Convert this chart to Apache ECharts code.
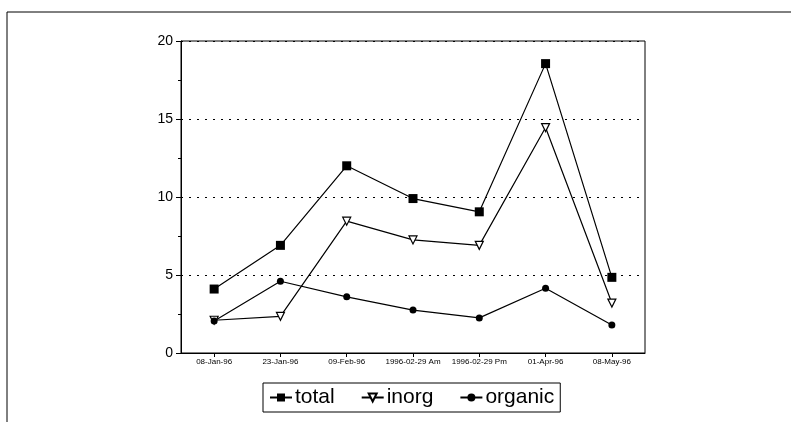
<!DOCTYPE html>
<html>
<head>
<meta charset="utf-8">
<script src="https://cdn.jsdelivr.net/npm/echarts@6/dist/echarts.min.js"></script>
<style>
  html, body { margin: 0; padding: 0; background: #fff; }
  #chart { width: 791px; height: 422px; }
</style>
</head>
<body>
<div id="chart"></div>
<script>
// Sampling dates
const categories = ['08-Jan-96', '23-Jan-96', '09-Feb-96', '1996-02-29 Am', '1996-02-29 Pm', '01-Apr-96', '08-May-96'];

// Measured concentrations per sample
const totalValues   = [4.1, 6.9, 12.0, 9.9, 9.05, 18.55, 4.85];
const inorgValues   = [2.1, 2.35, 8.45, 7.25, 6.9, 14.45, 3.2];
const organicValues = [2.05, 4.6, 3.6, 2.75, 2.25, 4.15, 1.8];

// Value axis ticks
const yTicks = [0, 5, 10, 15, 20];

const font = 'Liberation Sans, Arial, Helvetica, sans-serif';

const chart = echarts.init(document.getElementById('chart'), null, { renderer: 'canvas' });

function lineSeries(name, data, symbol, filled, size, rotate) {
  return {
    name: name,
    type: 'line',
    data: data,
    symbol: symbol,
    symbolSize: size,
    symbolRotate: rotate || 0,
    showAllSymbol: true,
    lineStyle: { color: '#000', width: 1.2 },
    itemStyle: {
      color: filled ? '#000' : '#fff',
      borderColor: '#000',
      borderWidth: filled ? 0 : 1.2
    },
    emphasis: { disabled: true },
    animation: false,
    z: 3
  };
}

chart.setOption({
  backgroundColor: '#fff',
  animation: false,
  grid: {
    left: 181, top: 41, width: 464, height: 312,
    show: true, borderColor: '#000', borderWidth: 1, backgroundColor: 'transparent'
  },
  legend: {
    left: 263, top: 383,
    width: 300, height: 30,
    itemGap: 26,
    itemWidth: 22, itemHeight: 10,
    padding: [4, 6, 4, 6],
    borderColor: '#000', borderWidth: 1,
    textStyle: { fontFamily: font, fontSize: 21, color: '#000', padding: [0, 0, 0, -2] },
    data: ['total', 'inorg', 'organic']
  },
  xAxis: {
    type: 'category',
    data: categories,
    boundaryGap: true,
    axisLine: { show: true, lineStyle: { color: '#000', width: 1 } },
    axisTick: { show: true, alignWithLabel: true, length: 4, lineStyle: { color: '#000' } },
    axisLabel: { fontFamily: font, fontSize: 8, color: '#000', margin: 5, interval: 0 },
    splitLine: { show: false }
  },
  yAxis: {
    type: 'value',
    min: yTicks[0],
    max: yTicks[yTicks.length - 1],
    interval: yTicks[1] - yTicks[0],
    axisLine: { show: true, lineStyle: { color: '#000', width: 1 } },
    axisTick: { show: true, length: 5, lineStyle: { color: '#000' } },
    minorTick: { show: true, splitNumber: 2, length: 3, lineStyle: { color: '#000' } },
    axisLabel: { fontFamily: font, fontSize: 14, color: '#000', margin: 8 },
    splitLine: { show: true, lineStyle: { color: '#000', type: [2, 6], width: 1 } }
  },
  graphic: [
    {
      type: 'polyline',
      shape: { points: [[7, 422], [7, 12], [791, 12]] },
      style: { stroke: '#000', lineWidth: 1, fill: null },
      silent: true
    }
  ],
  series: [
    lineSeries('total', totalValues, 'rect', true, 9),
    lineSeries('inorg', inorgValues, 'triangle', false, 8, 180),
    lineSeries('organic', organicValues, 'circle', true, 7)
  ]
});
</script>
</body>
</html>
